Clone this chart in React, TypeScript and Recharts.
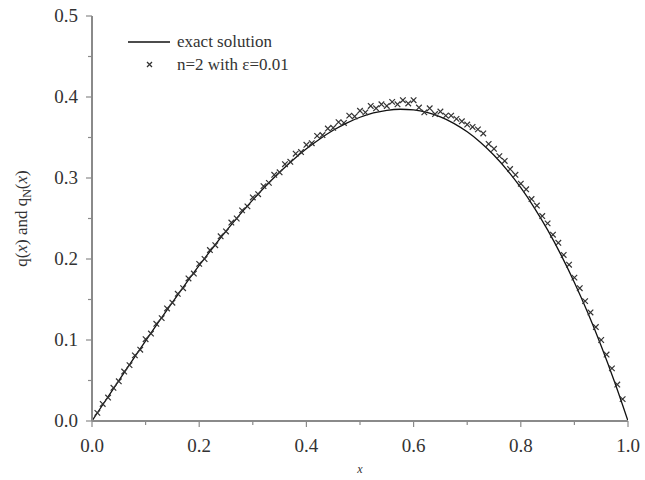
import { ComposedChart, Line, Scatter, XAxis, YAxis, Legend } from 'recharts'

// exact solution, sampled at 0.025
const exactX = [
  0, 0.025, 0.05, 0.075, 0.1, 0.125, 0.15, 0.175, 0.2, 0.225, 0.25, 0.275, 0.3, 0.325, 0.35, 0.375, 0.4, 0.425, 0.45, 0.475,
  0.5, 0.525, 0.55, 0.575, 0.6, 0.625, 0.65, 0.675, 0.7, 0.725, 0.75, 0.775, 0.8, 0.825, 0.85, 0.875, 0.9, 0.925, 0.95, 0.975, 1,
]
const exactY = [
  0, 0.025, 0.0499, 0.0746, 0.099, 0.123, 0.1466, 0.1696, 0.192, 0.2136, 0.2344, 0.2542, 0.273, 0.2907, 0.3071, 0.3223, 0.336, 0.3482, 0.3589, 0.3678,
  0.375, 0.3803, 0.3836, 0.3849, 0.384, 0.3809, 0.3754, 0.3675, 0.357, 0.3439, 0.3281, 0.3095, 0.288, 0.2635, 0.2359, 0.2051, 0.171, 0.1335, 0.0926, 0.0481, 0,
]

// n=2 with eps=0.01
const approxX = [
  0.01, 0.02, 0.03, 0.04, 0.05, 0.06, 0.07, 0.08, 0.09, 0.1,
  0.11, 0.12, 0.13, 0.14, 0.15, 0.16, 0.17, 0.18, 0.19, 0.2,
  0.21, 0.22, 0.23, 0.24, 0.25, 0.26, 0.27, 0.28, 0.29, 0.3,
  0.31, 0.32, 0.33, 0.34, 0.35, 0.36, 0.37, 0.38, 0.39, 0.4,
  0.41, 0.42, 0.43, 0.44, 0.45, 0.46, 0.47, 0.48, 0.49, 0.5,
  0.51, 0.52, 0.53, 0.54, 0.55, 0.56, 0.57, 0.58, 0.59, 0.6,
  0.61, 0.62, 0.63, 0.64, 0.65, 0.66, 0.67, 0.68, 0.69, 0.7,
  0.71, 0.72, 0.73, 0.74, 0.75, 0.76, 0.77, 0.78, 0.79, 0.8,
  0.81, 0.82, 0.83, 0.84, 0.85, 0.86, 0.87, 0.88, 0.89, 0.9,
  0.91, 0.92, 0.93, 0.94, 0.95, 0.96, 0.97, 0.98, 0.99,
]
const approxY = [
  0.010, 0.021, 0.029, 0.041, 0.049, 0.061, 0.069, 0.081, 0.088, 0.101,
  0.108, 0.120, 0.127, 0.139, 0.146, 0.157, 0.164, 0.176, 0.182, 0.194,
  0.200, 0.211, 0.217, 0.228, 0.234, 0.245, 0.250, 0.260, 0.265, 0.276,
  0.280, 0.290, 0.294, 0.304, 0.307, 0.317, 0.320, 0.330, 0.332, 0.341,
  0.343, 0.352, 0.353, 0.361, 0.362, 0.369, 0.368, 0.377, 0.376, 0.383,
  0.381, 0.389, 0.386, 0.391, 0.389, 0.394, 0.391, 0.396, 0.392, 0.396,
  0.387, 0.381, 0.386, 0.379, 0.382, 0.377, 0.377, 0.373, 0.370, 0.366,
  0.363, 0.360, 0.355, 0.342, 0.336, 0.327, 0.321, 0.311, 0.304, 0.293,
  0.286, 0.274, 0.266, 0.253, 0.244, 0.230, 0.220, 0.205, 0.193, 0.177,
  0.164, 0.148, 0.134, 0.116, 0.100, 0.082, 0.065, 0.045, 0.027,
]

const xTicks = [0, 0.1, 0.2, 0.3, 0.4, 0.5, 0.6, 0.7, 0.8, 0.9, 1]
const yTicks = [0, 0.05, 0.1, 0.15, 0.2, 0.25, 0.3, 0.35, 0.4, 0.45, 0.5]

const exactData = exactX.map((x, i) => ({ x, y: exactY[i] }))
const approxData = approxX.map((x, i) => ({ x, y: approxY[i] }))

const FONT = '"Liberation Serif", "DejaVu Serif", serif'
const AXIS = '#8a8a8a'
const TEXT = '#333'

function XTick(props: any) {
  const { x, y, payload } = props
  const major = Math.abs(Math.round(payload.value * 10) % 2) === 0
  return (
    <g>
      <line x1={x} x2={x} y1={y - 8} y2={y - 8 + (major ? 6 : 4)} stroke={AXIS} strokeWidth={1.2} />
      {major && (
        <text x={x} y={y + 23} textAnchor="middle" fontFamily={FONT} fontSize={19} fill={TEXT}>
          {payload.value.toFixed(1)}
        </text>
      )}
    </g>
  )
}

function YTick(props: any) {
  const { x, y, payload } = props
  const major = Math.abs(Math.round(payload.value * 20) % 2) === 0
  return (
    <g>
      <line x1={x + 8} x2={x + 8 - (major ? 6 : 4)} y1={y} y2={y} stroke={AXIS} strokeWidth={1.2} />
      {major && (
        <text x={x - 6} y={y + 6} textAnchor="end" fontFamily={FONT} fontSize={19} fill={TEXT}>
          {payload.value.toFixed(1)}
        </text>
      )}
    </g>
  )
}

function Cross(props: any) {
  const { cx, cy } = props
  if (cx == null || cy == null) return null
  const s = 2.8
  return (
    <path
      d={`M${cx - s},${cy - s}L${cx + s},${cy + s}M${cx - s},${cy + s}L${cx + s},${cy - s}`}
      stroke="#333"
      strokeWidth={1.2}
      fill="none"
    />
  )
}

function YLabel(props: any) {
  const { viewBox } = props
  const cx = 27
  const cy = viewBox.y + viewBox.height / 2
  return (
    <text
      transform={`translate(${cx},${cy}) rotate(-90)`}
      textAnchor="middle"
      fontFamily={FONT}
      fontSize={17}
      fill={TEXT}
    >
      q(<tspan fontStyle="italic">x</tspan>) and q
      <tspan fontSize={12} dy={4}>N</tspan>
      <tspan dy={-4}>(</tspan>
      <tspan fontStyle="italic">x</tspan>)
    </text>
  )
}

function XLabel(props: any) {
  const { viewBox } = props
  return (
    <text
      x={viewBox.x + viewBox.width / 2}
      y={viewBox.y + 52}
      textAnchor="middle"
      fontFamily={FONT}
      fontStyle="italic"
      fontSize={12}
      fill={TEXT}
    >
      x
    </text>
  )
}

function LegendBox() {
  return (
    <div style={{ fontFamily: FONT, fontSize: 17, color: TEXT, lineHeight: '23px' }}>
      <div style={{ display: 'flex', alignItems: 'center', height: 23 }}>
        <svg width={51} height={20}>
          <line x1={2} x2={44} y1={10} y2={10} stroke="#111" strokeWidth={1.3} />
        </svg>
        <span>exact solution</span>
      </div>
      <div style={{ display: 'flex', alignItems: 'center', height: 23 }}>
        <svg width={51} height={20}>
          <path d="M21,7L26,12M21,12L26,7" stroke="#333" strokeWidth={1.3} />
        </svg>
        <span>n=2 with ε=0.01</span>
      </div>
    </div>
  )
}

export default function App() {
  return (
    <div style={{ position: 'absolute', left: 0, top: 0 }}>
      <ComposedChart
        width={645}
        height={480}
        margin={{ top: 16, right: 17, bottom: 29, left: 32 }}
      >
        <XAxis
          type="number"
          dataKey="x"
          domain={[0, 1]}
          ticks={xTicks}
          tick={<XTick />}
          tickLine={false}
          axisLine={{ stroke: AXIS, strokeWidth: 2 }}
          height={30}
          allowDataOverflow
          label={<XLabel />}
        />
        <YAxis
          type="number"
          domain={[0, 0.5]}
          ticks={yTicks}
          tick={<YTick />}
          tickLine={false}
          axisLine={{ stroke: AXIS, strokeWidth: 2 }}
          width={60}
          interval={0}
          label={<YLabel />}
        />
        <Legend
          layout="horizontal"
          verticalAlign="middle"
          align="center"
          content={<LegendBox />}
          wrapperStyle={{ left: 126, top: 30, width: 260 }}
        />
        <Line
          data={exactData}
          dataKey="y"
          type="monotone"
          stroke="#111"
          strokeWidth={1.3}
          dot={false}
          activeDot={false}
          isAnimationActive={false}
          legendType="line"
        />
        <Scatter
          data={approxData}
          dataKey="y"
          shape={<Cross />}
          isAnimationActive={false}
        />
      </ComposedChart>
    </div>
  )
}
